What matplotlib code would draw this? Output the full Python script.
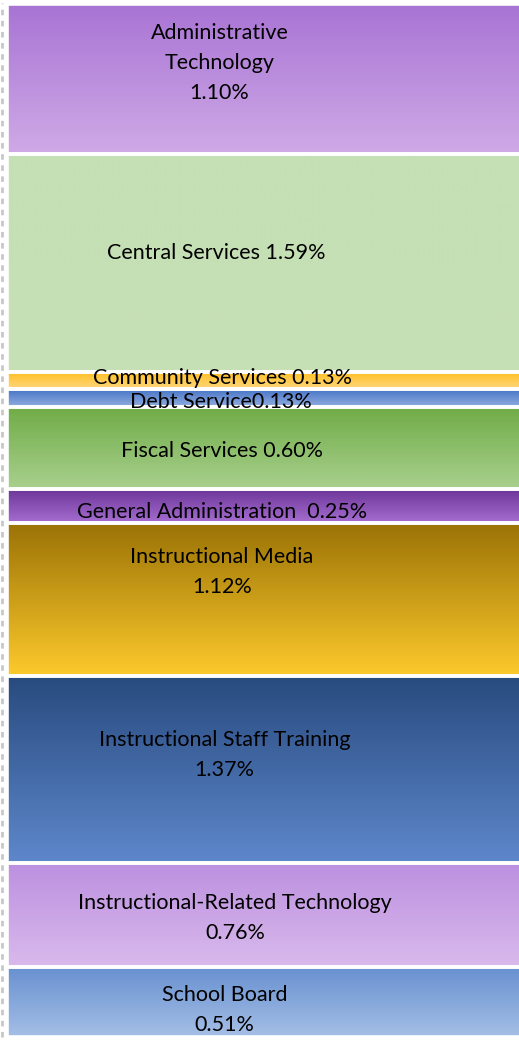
import numpy as np
import matplotlib
matplotlib.use('Agg')
import matplotlib.pyplot as plt
from matplotlib.colors import LinearSegmentedColormap
from matplotlib.lines import Line2D

plt.rcParams['font.family'] = ['Lato', 'DejaVu Sans']

# segments from top to bottom
labels = ['Administrative\nTechnology\n1.10%', 'Central Services 1.59%', 'Community Services 0.13%',
          'Debt Service0.13%', 'Fiscal Services 0.60%', 'General Administration  0.25%',
          'Instructional Media\n1.12%', 'Instructional Staff Training\n1.37%',
          'Instructional-Related Technology\n0.76%', 'School Board\n0.51%']
values = [1.10, 1.59, 0.13, 0.13, 0.60, 0.25, 1.12, 1.37, 0.76, 0.51]

# gradient top / bottom colours
top_colors = ['#A873D4', '#C5E0B4', '#FFBE1E', '#4674C6', '#70AC47', '#6A3496',
              '#9A7206', '#284A7E', '#BC90E0', '#6890D0']
bot_colors = ['#CFAAE6', '#C7E0B6', '#FFD77E', '#92AEE0', '#A9D08E', '#A66ED0',
              '#FDCA2C', '#5E88CC', '#D9BAEC', '#A5BFE6']
label_dy = [-0.12, -0.07, -0.02, 0.03, 0.02, 0.04, -0.2, -0.11, 0.02, 0.06]
label_x = [0.415, 0.408, 0.42, 0.418, 0.42, 0.42, 0.42, 0.425, 0.445, 0.425]

fig = plt.figure(figsize=(5.19, 10.40), dpi=100)
ax = fig.add_axes([7 / 519, 3 / 1040, 1 - 7 / 519, 1033 / 1040])
total = sum(values)
ax.axis('off')

bottom = 0
for lab, v, c1, c2, dy, lx in zip(labels, values, top_colors, bot_colors, label_dy, label_x):
    cmap = LinearSegmentedColormap.from_list('g', [c1, c2])
    grad = np.linspace(0, 1, 256).reshape(-1, 1)
    ax.imshow(grad, cmap=cmap, extent=(0, 1.2, bottom + v, bottom), aspect='auto',
              interpolation='bilinear', zorder=1)
    ax.bar(0.6, v, width=1.2, bottom=bottom, facecolor='none', edgecolor='white',
           linewidth=2.6, zorder=2)
    ax.text(lx, bottom + v / 2 + dy, lab, ha='center', va='center', fontsize=15.5,
            linespacing=1.62, color='black', zorder=3)
    bottom += v

ax.set_xlim(0, 1)
ax.set_ylim(total, 0)

fig.add_artist(Line2D([2 / 519, 2 / 519], [0.003, 0.997], color='#C8C8C8', lw=2,
                      linestyle=(0, (2, 2))))

plt.savefig('out.png', dpi=100)
